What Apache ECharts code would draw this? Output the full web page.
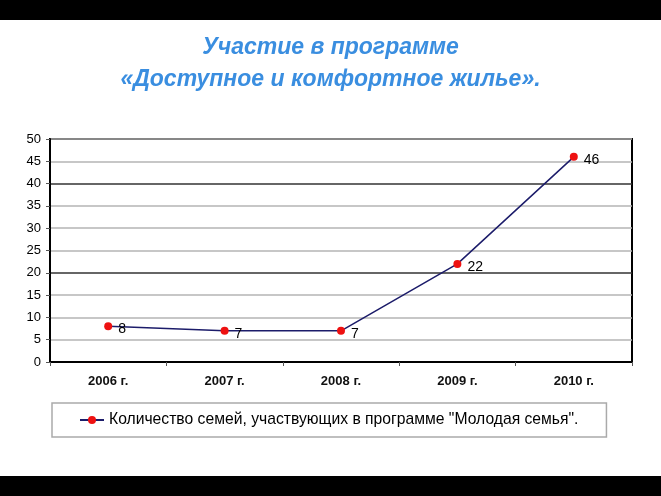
<!DOCTYPE html>
<html>
<head>
<meta charset="utf-8">
<script src="https://cdn.jsdelivr.net/npm/echarts@6/dist/echarts.min.js"></script>
<style>
html,body{margin:0;padding:0;background:#fff;}
#c{width:661px;height:496px;}
</style>
</head>
<body>
<div id="c"></div>
<script>
var categories = ['2006 г.', '2007 г.', '2008 г.', '2009 г.', '2010 г.'];
var families = [8, 7, 7, 22, 46];
var seriesName = 'Количество семей, участвующих в программе "Молодая семья".';
var titleText = 'Участие в программе\n«Доступное и комфортное жилье».';

var chart = echarts.init(document.getElementById('c'), null, {renderer: 'canvas'});
chart.setOption({
  animation: false,
  backgroundColor: '#ffffff',
  title: {
    text: titleText,
    left: 'center',
    top: 27,
    textStyle: {
      fontFamily: 'Liberation Sans, Arial, sans-serif',
      fontSize: 23,
      fontWeight: 'bold',
      fontStyle: 'italic',
      color: '#3a8ee0',
      lineHeight: 32
    }
  },
  graphic: [
    {type: 'rect', left: 0, top: 0, shape: {width: 661, height: 20}, style: {fill: '#000'}, z: 100},
    {type: 'rect', left: 0, top: 476, shape: {width: 661, height: 20}, style: {fill: '#000'}, z: 100}
  ],
  grid: {left: 50, right: 29, top: 139, bottom: 134, show: true, borderColor: '#000', borderWidth: 2},
  legend: {
    data: [seriesName],
    left: 52,
    top: 403,
    padding: [9, 28, 9, 27],
    borderColor: '#aaaaaa',
    borderWidth: 1.5,
    itemWidth: 24,
    itemHeight: 10,
    itemGap: 4,
    textStyle: {fontFamily: 'Liberation Sans, Arial, sans-serif', fontSize: 15.7, color: '#000'}
  },
  xAxis: {
    type: 'category',
    data: categories,
    boundaryGap: true,
    axisLine: {lineStyle: {color: '#000', width: 2}},
    axisTick: {show: true, length: 4, lineStyle: {color: '#555'}},
    axisLabel: {
      margin: 13,
      fontFamily: 'Liberation Sans, Arial, sans-serif',
      fontSize: 13,
      fontWeight: 'bold',
      color: '#111'
    }
  },
  yAxis: {
    type: 'value',
    min: 0,
    max: 50,
    interval: 5,
    axisLine: {show: true, lineStyle: {color: '#000', width: 2}},
    axisTick: {show: true, length: 4, lineStyle: {color: '#555'}},
    axisLabel: {margin: 9, fontFamily: 'Liberation Sans, Arial, sans-serif', fontSize: 13, color: '#000'},
    splitLine: {show: true, lineStyle: {color: ['#333333', '#b4b4b4', '#b4b4b4', '#b4b4b4'], width: 1.5}}
  },
  series: [{
    name: seriesName,
    type: 'line',
    data: families,
    symbol: 'circle',
    symbolSize: 8,
    itemStyle: {color: '#ee1111'},
    lineStyle: {color: '#1c1c6a', width: 1.5},
    label: {
      show: true,
      position: 'right',
      distance: 6,
      offset: [0, 3],
      fontFamily: 'Liberation Sans, Arial, sans-serif',
      fontSize: 14,
      color: '#000'
    }
  }]
});
</script>
</body>
</html>
